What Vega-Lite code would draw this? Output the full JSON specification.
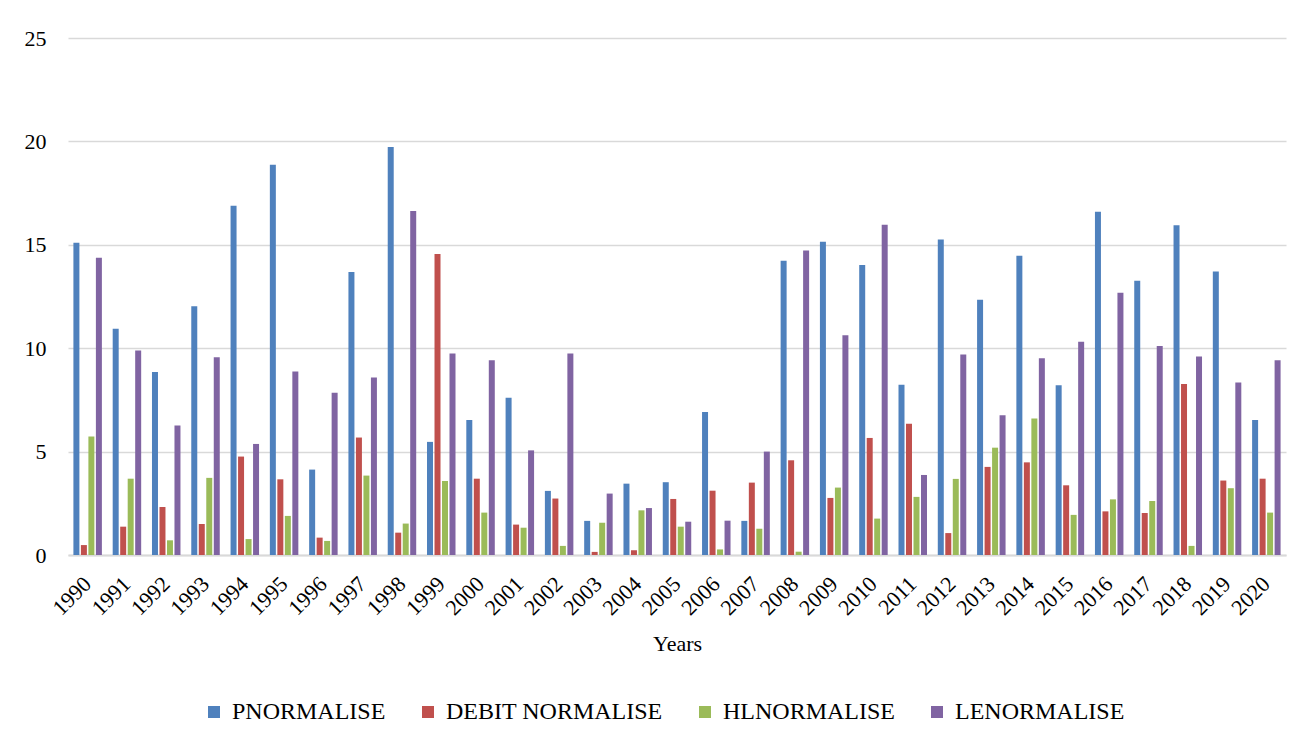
{
  "$schema": "https://vega.github.io/schema/vega-lite/v6.json",
  "autosize": "none",
  "width": 1218,
  "height": 517,
  "padding": {"left": 68, "top": 38, "right": 30, "bottom": 190},
  "background": "white",
  "config": {
    "font": "Times New Roman, Liberation Serif, serif",
    "view": {"stroke": null},
    "axis": {"labelFont": "Times New Roman, Liberation Serif, serif", "titleFont": "Times New Roman, Liberation Serif, serif", "labelColor": "#000000", "titleColor": "#000000"},
    "legend": {"labelFont": "Times New Roman, Liberation Serif, serif", "labelColor": "#000000"}
  },
  "data": {
    "values": [
      {"year": "1990", "series": "PNORMALISE", "value": 15.1},
      {"year": "1990", "series": "DEBIT NORMALISE", "value": 0.48},
      {"year": "1990", "series": "HLNORMALISE", "value": 5.73},
      {"year": "1990", "series": "LENORMALISE", "value": 14.37},
      {"year": "1991", "series": "PNORMALISE", "value": 10.94},
      {"year": "1991", "series": "DEBIT NORMALISE", "value": 1.37},
      {"year": "1991", "series": "HLNORMALISE", "value": 3.69},
      {"year": "1991", "series": "LENORMALISE", "value": 9.89},
      {"year": "1992", "series": "PNORMALISE", "value": 8.85},
      {"year": "1992", "series": "DEBIT NORMALISE", "value": 2.32},
      {"year": "1992", "series": "HLNORMALISE", "value": 0.71},
      {"year": "1992", "series": "LENORMALISE", "value": 6.26},
      {"year": "1993", "series": "PNORMALISE", "value": 12.03},
      {"year": "1993", "series": "DEBIT NORMALISE", "value": 1.5},
      {"year": "1993", "series": "HLNORMALISE", "value": 3.73},
      {"year": "1993", "series": "LENORMALISE", "value": 9.56},
      {"year": "1994", "series": "PNORMALISE", "value": 16.89},
      {"year": "1994", "series": "DEBIT NORMALISE", "value": 4.76},
      {"year": "1994", "series": "HLNORMALISE", "value": 0.77},
      {"year": "1994", "series": "LENORMALISE", "value": 5.37},
      {"year": "1995", "series": "PNORMALISE", "value": 18.87},
      {"year": "1995", "series": "DEBIT NORMALISE", "value": 3.66},
      {"year": "1995", "series": "HLNORMALISE", "value": 1.89},
      {"year": "1995", "series": "LENORMALISE", "value": 8.87},
      {"year": "1996", "series": "PNORMALISE", "value": 4.13},
      {"year": "1996", "series": "DEBIT NORMALISE", "value": 0.84},
      {"year": "1996", "series": "HLNORMALISE", "value": 0.68},
      {"year": "1996", "series": "LENORMALISE", "value": 7.84},
      {"year": "1997", "series": "PNORMALISE", "value": 13.69},
      {"year": "1997", "series": "DEBIT NORMALISE", "value": 5.68},
      {"year": "1997", "series": "HLNORMALISE", "value": 3.84},
      {"year": "1997", "series": "LENORMALISE", "value": 8.58},
      {"year": "1998", "series": "PNORMALISE", "value": 19.73},
      {"year": "1998", "series": "DEBIT NORMALISE", "value": 1.08},
      {"year": "1998", "series": "HLNORMALISE", "value": 1.52},
      {"year": "1998", "series": "LENORMALISE", "value": 16.63},
      {"year": "1999", "series": "PNORMALISE", "value": 5.47},
      {"year": "1999", "series": "DEBIT NORMALISE", "value": 14.56},
      {"year": "1999", "series": "HLNORMALISE", "value": 3.58},
      {"year": "1999", "series": "LENORMALISE", "value": 9.74},
      {"year": "2000", "series": "PNORMALISE", "value": 6.53},
      {"year": "2000", "series": "DEBIT NORMALISE", "value": 3.69},
      {"year": "2000", "series": "HLNORMALISE", "value": 2.05},
      {"year": "2000", "series": "LENORMALISE", "value": 9.42},
      {"year": "2001", "series": "PNORMALISE", "value": 7.6},
      {"year": "2001", "series": "DEBIT NORMALISE", "value": 1.47},
      {"year": "2001", "series": "HLNORMALISE", "value": 1.32},
      {"year": "2001", "series": "LENORMALISE", "value": 5.06},
      {"year": "2002", "series": "PNORMALISE", "value": 3.1},
      {"year": "2002", "series": "DEBIT NORMALISE", "value": 2.73},
      {"year": "2002", "series": "HLNORMALISE", "value": 0.44},
      {"year": "2002", "series": "LENORMALISE", "value": 9.74},
      {"year": "2003", "series": "PNORMALISE", "value": 1.65},
      {"year": "2003", "series": "DEBIT NORMALISE", "value": 0.15},
      {"year": "2003", "series": "HLNORMALISE", "value": 1.56},
      {"year": "2003", "series": "LENORMALISE", "value": 2.97},
      {"year": "2004", "series": "PNORMALISE", "value": 3.45},
      {"year": "2004", "series": "DEBIT NORMALISE", "value": 0.23},
      {"year": "2004", "series": "HLNORMALISE", "value": 2.16},
      {"year": "2004", "series": "LENORMALISE", "value": 2.27},
      {"year": "2005", "series": "PNORMALISE", "value": 3.52},
      {"year": "2005", "series": "DEBIT NORMALISE", "value": 2.71},
      {"year": "2005", "series": "HLNORMALISE", "value": 1.37},
      {"year": "2005", "series": "LENORMALISE", "value": 1.61},
      {"year": "2006", "series": "PNORMALISE", "value": 6.92},
      {"year": "2006", "series": "DEBIT NORMALISE", "value": 3.11},
      {"year": "2006", "series": "HLNORMALISE", "value": 0.27},
      {"year": "2006", "series": "LENORMALISE", "value": 1.66},
      {"year": "2007", "series": "PNORMALISE", "value": 1.65},
      {"year": "2007", "series": "DEBIT NORMALISE", "value": 3.5},
      {"year": "2007", "series": "HLNORMALISE", "value": 1.27},
      {"year": "2007", "series": "LENORMALISE", "value": 5.0},
      {"year": "2008", "series": "PNORMALISE", "value": 14.23},
      {"year": "2008", "series": "DEBIT NORMALISE", "value": 4.58},
      {"year": "2008", "series": "HLNORMALISE", "value": 0.16},
      {"year": "2008", "series": "LENORMALISE", "value": 14.73},
      {"year": "2009", "series": "PNORMALISE", "value": 15.15},
      {"year": "2009", "series": "DEBIT NORMALISE", "value": 2.76},
      {"year": "2009", "series": "HLNORMALISE", "value": 3.26},
      {"year": "2009", "series": "LENORMALISE", "value": 10.63},
      {"year": "2010", "series": "PNORMALISE", "value": 14.02},
      {"year": "2010", "series": "DEBIT NORMALISE", "value": 5.66},
      {"year": "2010", "series": "HLNORMALISE", "value": 1.76},
      {"year": "2010", "series": "LENORMALISE", "value": 15.97},
      {"year": "2011", "series": "PNORMALISE", "value": 8.23},
      {"year": "2011", "series": "DEBIT NORMALISE", "value": 6.35},
      {"year": "2011", "series": "HLNORMALISE", "value": 2.81},
      {"year": "2011", "series": "LENORMALISE", "value": 3.87},
      {"year": "2012", "series": "PNORMALISE", "value": 15.26},
      {"year": "2012", "series": "DEBIT NORMALISE", "value": 1.06},
      {"year": "2012", "series": "HLNORMALISE", "value": 3.68},
      {"year": "2012", "series": "LENORMALISE", "value": 9.69},
      {"year": "2013", "series": "PNORMALISE", "value": 12.34},
      {"year": "2013", "series": "DEBIT NORMALISE", "value": 4.26},
      {"year": "2013", "series": "HLNORMALISE", "value": 5.19},
      {"year": "2013", "series": "LENORMALISE", "value": 6.76},
      {"year": "2014", "series": "PNORMALISE", "value": 14.47},
      {"year": "2014", "series": "DEBIT NORMALISE", "value": 4.48},
      {"year": "2014", "series": "HLNORMALISE", "value": 6.6},
      {"year": "2014", "series": "LENORMALISE", "value": 9.52},
      {"year": "2015", "series": "PNORMALISE", "value": 8.21},
      {"year": "2015", "series": "DEBIT NORMALISE", "value": 3.37},
      {"year": "2015", "series": "HLNORMALISE", "value": 1.94},
      {"year": "2015", "series": "LENORMALISE", "value": 10.31},
      {"year": "2016", "series": "PNORMALISE", "value": 16.6},
      {"year": "2016", "series": "DEBIT NORMALISE", "value": 2.11},
      {"year": "2016", "series": "HLNORMALISE", "value": 2.69},
      {"year": "2016", "series": "LENORMALISE", "value": 12.68},
      {"year": "2017", "series": "PNORMALISE", "value": 13.26},
      {"year": "2017", "series": "DEBIT NORMALISE", "value": 2.03},
      {"year": "2017", "series": "HLNORMALISE", "value": 2.61},
      {"year": "2017", "series": "LENORMALISE", "value": 10.11},
      {"year": "2018", "series": "PNORMALISE", "value": 15.95},
      {"year": "2018", "series": "DEBIT NORMALISE", "value": 8.27},
      {"year": "2018", "series": "HLNORMALISE", "value": 0.44},
      {"year": "2018", "series": "LENORMALISE", "value": 9.6},
      {"year": "2019", "series": "PNORMALISE", "value": 13.71},
      {"year": "2019", "series": "DEBIT NORMALISE", "value": 3.6},
      {"year": "2019", "series": "HLNORMALISE", "value": 3.23},
      {"year": "2019", "series": "LENORMALISE", "value": 8.34},
      {"year": "2020", "series": "PNORMALISE", "value": 6.53},
      {"year": "2020", "series": "DEBIT NORMALISE", "value": 3.69},
      {"year": "2020", "series": "HLNORMALISE", "value": 2.05},
      {"year": "2020", "series": "LENORMALISE", "value": 9.42}
    ]
  },
  "mark": {"type": "bar"},
  "encoding": {
    "x": {
      "field": "year",
      "type": "nominal",
      "scale": {"paddingInner": 0.275, "paddingOuter": 0.1375},
      "axis": {
        "title": "Years",
        "titleFontSize": 22,
        "titleFontWeight": "normal",
        "titlePadding": 15,
        "labelFontSize": 22,
        "labelAngle": -45,
        "labelAlign": "right",
        "labelBaseline": "middle",
        "labelPadding": 25,
        "ticks": false,
        "domainColor": "#d9d9d9",
        "domainWidth": 2,
        "grid": false
      }
    },
    "xOffset": {
      "field": "series",
      "type": "nominal",
      "scale": {"domain": ["PNORMALISE", "DEBIT NORMALISE", "HLNORMALISE", "LENORMALISE"], "paddingInner": 0.2, "paddingOuter": 0}
    },
    "y": {
      "field": "value",
      "type": "quantitative",
      "scale": {"domain": [0, 25], "nice": false},
      "axis": {
        "title": null,
        "values": [0, 5, 10, 15, 20, 25],
        "labelFontSize": 22,
        "labelPadding": 22,
        "ticks": false,
        "domain": false,
        "gridColor": "#d9d9d9",
        "gridWidth": 1.5
      }
    },
    "color": {
      "field": "series",
      "type": "nominal",
      "scale": {
        "domain": ["PNORMALISE", "DEBIT NORMALISE", "HLNORMALISE", "LENORMALISE"],
        "range": ["#4f81bd", "#c0504d", "#9bbb59", "#8064a2"]
      },
      "legend": {
        "title": null,
        "orient": "none",
        "direction": "horizontal",
        "legendX": 134,
        "legendY": 662,
        "symbolType": "square",
        "symbolSize": 144,
        "symbolOpacity": 1,
        "labelFontSize": 24,
        "labelLimit": 400,
        "labelOffset": 6,
        "columnPadding": 30
      }
    }
  }
}
